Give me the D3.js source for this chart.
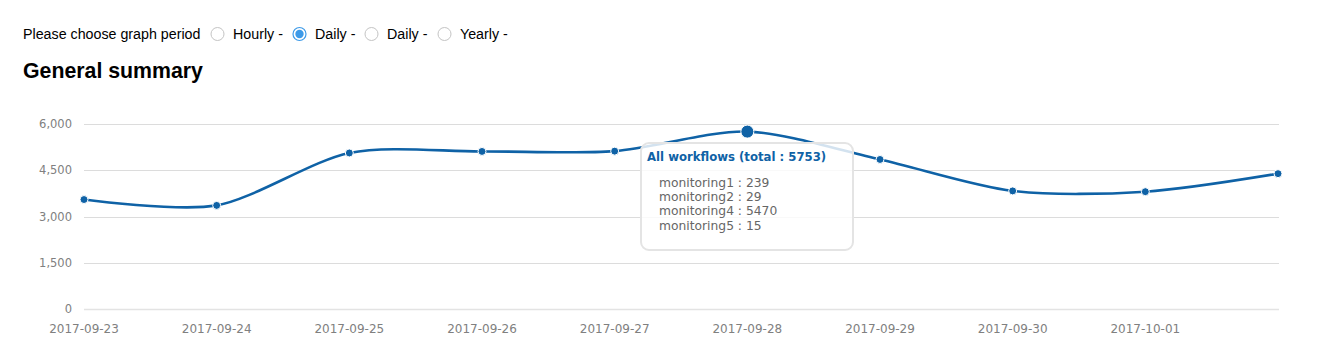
<!DOCTYPE html>
<html><head><meta charset="utf-8">
<script src="https://cdn.jsdelivr.net/npm/d3@7"></script>
<style>
html,body{margin:0;padding:0;background:#fff;}
svg{display:block;}
</style></head>
<body>
<svg id="c" width="1336" height="357"></svg>
<script>
const periods = ["Hourly -", "Daily -", "Daily -", "Yearly -"];
const selectedPeriod = 1;
const dates = ["2017-09-23","2017-09-24","2017-09-25","2017-09-26","2017-09-27","2017-09-28","2017-09-29","2017-09-30","2017-10-01","2017-10-02"];
const totals = [3550, 3360, 5060, 5110, 5120, 5753, 4850, 3830, 3805, 4390];
const xTickLabels = ["2017-09-23","2017-09-24","2017-09-25","2017-09-26","2017-09-27","2017-09-28","2017-09-29","2017-09-30","2017-10-01"];
const yTicks = [0, 1500, 3000, 4500, 6000];
const hoverIndex = 5;
const tooltipTitle = "All workflows (total : 5753)";
const tooltipNames = ["monitoring1", "monitoring2", "monitoring4", "monitoring5"];
const tooltipValues = [239, 29, 5470, 15];

const svg = d3.select("#c");
const blue = "#0f62a6";
const fontAx = "'DejaVu Sans', sans-serif";
const fontHd = "'Liberation Sans', Arial, sans-serif";

// header
svg.append("text").attr("x", 23).attr("y", 39).attr("font-family", fontHd).attr("font-size", 14.25).attr("fill", "#000").text("Please choose graph period");
const radioX = [217.5, 299.5, 371.5, 444.5];
periods.forEach((p, i) => {
  const g = svg.append("g");
  if (i === selectedPeriod) {
    g.append("circle").attr("cx", radioX[i]).attr("cy", 34).attr("r", 6.5).attr("fill", "#fff").attr("stroke", "#3d9ae8").attr("stroke-width", 1.2);
    g.append("circle").attr("cx", radioX[i]).attr("cy", 34).attr("r", 4.2).attr("fill", "#3d9ae8");
  } else {
    g.append("circle").attr("cx", radioX[i]).attr("cy", 34).attr("r", 6.5).attr("fill", "#fff").attr("stroke", "#c4c4c4").attr("stroke-width", 1);
  }
  g.append("text").attr("x", radioX[i] + 15.5).attr("y", 39).attr("font-family", fontHd).attr("font-size", 14.25).attr("fill", "#000").text(p);
});
svg.append("text").attr("x", 23).attr("y", 78).attr("font-family", fontHd).attr("font-size", 21.3).attr("font-weight", "bold").attr("fill", "#000").text("General summary");

// scales
const x = d3.scalePoint().domain(dates).range([84, 1278]);
const y = d3.scaleLinear().domain([0, 6000]).range([309, 124]);

// grid
svg.append("g").selectAll("line").data(yTicks).join("line")
  .attr("x1", 84).attr("x2", 1279)
  .attr("y1", d => Math.round(y(d)) + 0.5).attr("y2", d => Math.round(y(d)) + 0.5)
  .attr("stroke", d => d === 0 ? "#e3e3e3" : "#dcdcdc").attr("stroke-width", d => d === 0 ? 1.6 : 1);

// y labels
svg.append("g").selectAll("text").data(yTicks).join("text")
  .attr("x", 72).attr("y", d => y(d) + 4)
  .attr("text-anchor", "end").attr("font-family", fontAx).attr("font-size", 11.5).attr("fill", "#808080")
  .text(d3.format(","));

// x labels
svg.append("g").selectAll("text").data(xTickLabels).join("text")
  .attr("x", d => x(d)).attr("y", 333)
  .attr("text-anchor", "middle").attr("font-family", fontAx).attr("font-size", 12).attr("fill", "#808080")
  .text(d => d);

// line
const line = d3.line().x((d, i) => x(dates[i])).y(d => y(d)).curve(d3.curveCardinal.tension(0.15));
svg.append("path").datum(totals).attr("d", line).attr("fill", "none").attr("stroke", blue).attr("stroke-width", 2.6);

// dots
svg.append("g").selectAll("circle").data(totals).join("circle")
  .attr("cx", (d, i) => x(dates[i])).attr("cy", d => y(d))
  .attr("r", (d, i) => i === hoverIndex ? 6.5 : 4)
  .attr("fill", blue).attr("stroke", "#fff").attr("stroke-width", 1);

// tooltip
const tt = svg.append("g");
tt.append("rect").attr("x", 641).attr("y", 143).attr("width", 212).attr("height", 107).attr("rx", 8)
  .attr("fill", "rgba(255,255,255,0.82)").attr("stroke", "#e4e4e4").attr("stroke-width", 2);
tt.append("text").attr("x", 647).attr("y", 161).attr("font-family", fontAx).attr("font-size", 11.7).attr("font-weight", "bold").attr("fill", blue).text(tooltipTitle);
tt.selectAll("text.row").data(tooltipNames).join("text").attr("class", "row")
  .attr("x", 659).attr("y", (d, i) => 187 + i * 14.2)
  .attr("font-family", fontAx).attr("font-size", 12.3).attr("fill", "#666")
  .text((d, i) => d + " : " + tooltipValues[i]);
</script>
</body></html>
